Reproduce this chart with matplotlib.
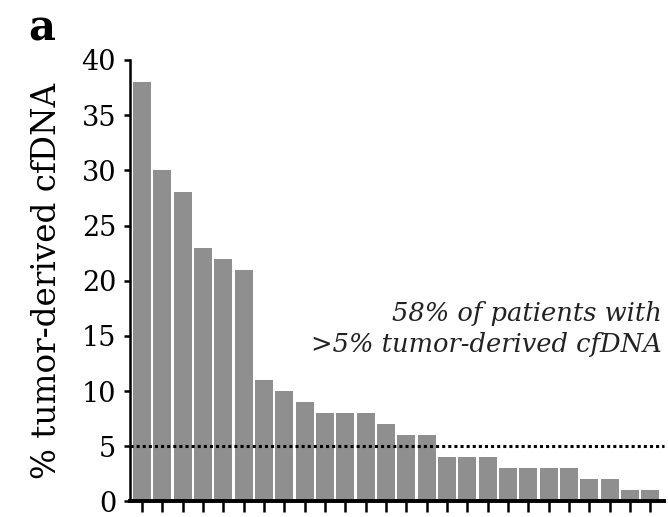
import matplotlib
matplotlib.use("Agg")
import matplotlib.pyplot as plt

# % tumor-derived cfDNA per patient, sorted high to low
values = [38, 30, 28, 23, 22, 21, 11, 10, 9, 8, 8, 8, 7, 6, 6,
          4, 4, 4, 3, 3, 3, 3, 2, 2, 1, 1]
yticks = [0, 5, 10, 15, 20, 25, 30, 35, 40]
threshold = 5

plt.rcParams['font.family'] = 'DejaVu Serif'

fig = plt.figure(figsize=(6.68, 5.17), dpi=100)
ax = fig.add_axes([0.1946, 0.03, 0.80, 0.854])

xs = list(range(len(values)))
ax.bar(xs, values, width=0.88, color='#8f8f8f', edgecolor='none', zorder=2)
ax.axhline(threshold, color='black', linestyle=(0, (1, 1)), linewidth=2.2, zorder=3,
           clip_on=False)

ax.set_xlim(-0.59, 25.69)
ax.set_ylim(0, 40)
ax.set_yticks(yticks)
ax.set_yticklabels([str(t) for t in yticks], fontsize=19.5)
ax.set_xticks(xs)
ax.set_xticklabels([])

ax.spines['top'].set_visible(False)
ax.spines['right'].set_visible(False)
ax.spines['left'].set_linewidth(1.8)
ax.spines['bottom'].set_linewidth(2.8)
ax.tick_params(axis='x', direction='out', length=8, width=1.8)
ax.tick_params(axis='y', direction='out', length=4, width=1.8, pad=6)

ax.set_ylabel('% tumor-derived cfDNA', fontsize=23.5, labelpad=13)

ax.text(0.995, 0.39, '58% of patients with\n>5% tumor-derived cfDNA',
        transform=ax.transAxes, ha='right', va='center', fontsize=18.5,
        style='italic', linespacing=1.32, color='#222222')

fig.text(0.043, 0.945, 'a', fontsize=30, fontweight='bold', ha='left', va='center')

fig.savefig('out.png', dpi=100)
